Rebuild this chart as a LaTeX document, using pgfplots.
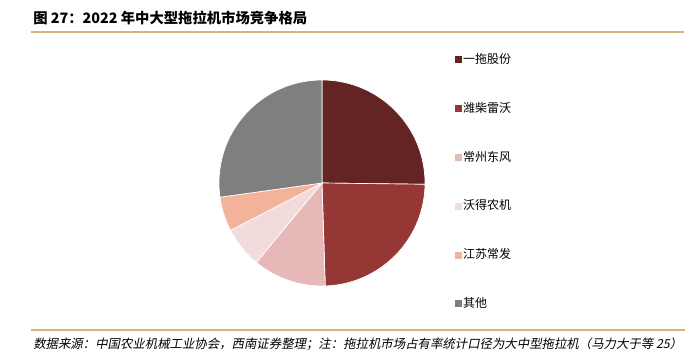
\documentclass[border=0pt]{standalone}
\usepackage{fontspec}
\setmainfont{Noto Sans CJK SC}
\newfontfamily\footfont[FakeSlant=0.2]{Noto Sans CJK SC}
\usepackage{pgfplots}
\pgfplotsset{compat=1.18}
\definecolor{cA}{HTML}{632423}
\definecolor{cB}{HTML}{953735}
\definecolor{cC}{HTML}{E6B9B8}
\definecolor{cD}{HTML}{F2DCDB}
\definecolor{cE}{HTML}{F3B39A}
\definecolor{cF}{HTML}{7F7F7F}
\definecolor{rule}{RGB}{215,180,125}
% slice: colour, cumulative start (%), cumulative end (%)
\newcommand{\slice}[3]{%
  \pgfmathsetmacro\aS{90-3.6*#3}%
  \pgfmathsetmacro\aE{90-3.6*#2}%
  \edef\doslice{\noexpand\addplot[fill=#1, draw=white, line width=0.5pt, domain=\aS:\aE, samples=80] ({cos(x)},{sin(x)}) -- (axis cs:0,0) -- cycle;}%
  \doslice
}
\begin{document}
\begin{tikzpicture}[x=0.75pt,y=0.75pt]
\fill[white] (0,0) rectangle (689,364);
\useasboundingbox (0,0) rectangle (689,364);
\node[anchor=west, inner sep=0pt, font=\fontsize{10.75}{12}\selectfont\bfseries] at (33,364-18) {图 27：2022 年中大型拖拉机市场竞争格局};
\draw[rule, line width=1.5pt] (31,364-32) -- (684,364-32);
\draw[rule, line width=1.5pt] (31,364-330.5) -- (685,364-330.5);
\node[anchor=west, inner sep=0pt, font=\fontsize{9.3}{11}\footfont] at (33,364-344) {数据来源：中国农业机械工业协会，西南证券整理；注：拖拉机市场占有率统计口径为大中型拖拉机（马力大于等 25）};
\begin{axis}[
  hide axis, scale only axis,
  width=154.5pt, height=154.5pt,
  xmin=-1, xmax=1, ymin=-1, ymax=1,
  clip=false,
  at={(241.5pt,135.75pt)}, anchor=center,
  legend image code/.code={\fill[#1,draw=none] (0pt,-2.6pt) rectangle (5.4pt,2.6pt);},
  legend style={at={(1.123,1.145)}, anchor=north west, draw=none, fill=none,
    font=\fontsize{9}{10}\selectfont, row sep=26.3pt,
    nodes={inner sep=1pt, text height=6.8pt, text depth=1.5pt},
    legend cell align=left},
]
\slice{cA}{0}{25.2}
\addlegendentry{一拖股份}
\slice{cB}{25.2}{49.5}
\addlegendentry{潍柴雷沃}
\slice{cC}{49.5}{61.0}
\addlegendentry{常州东风}
\slice{cD}{61.0}{67.4}
\addlegendentry{沃得农机}
\slice{cE}{67.4}{72.8}
\addlegendentry{江苏常发}
\slice{cF}{72.8}{100}
\addlegendentry{其他}
\end{axis}
\end{tikzpicture}
\end{document}
